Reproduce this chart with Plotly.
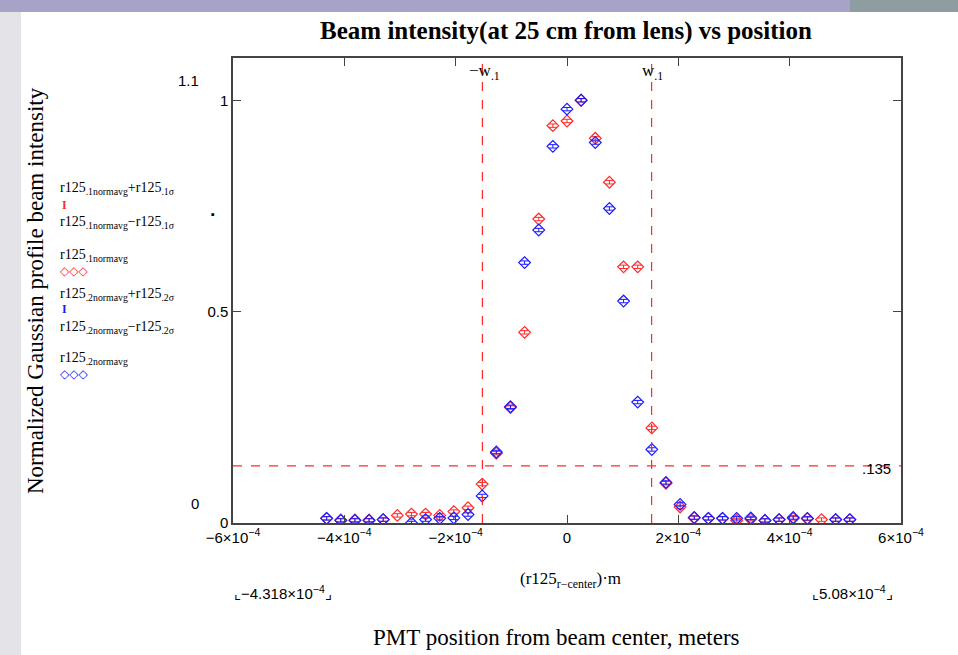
import plotly.graph_objects as go

# posisi PMT relatif terhadap pusat berkas (meter), langkah 0.001 inci
position_m = [-4.318e-4, -4.064e-4, -3.810e-4, -3.556e-4, -3.302e-4, -3.048e-4,
              -2.794e-4, -2.540e-4, -2.286e-4, -2.032e-4, -1.778e-4, -1.524e-4,
              -1.270e-4, -1.016e-4, -0.762e-4, -0.508e-4, -0.254e-4, 0.0,
              0.254e-4, 0.508e-4, 0.762e-4, 1.016e-4, 1.270e-4, 1.524e-4,
              1.778e-4, 2.032e-4, 2.286e-4, 2.540e-4, 2.794e-4, 3.048e-4,
              3.302e-4, 3.556e-4, 3.810e-4, 4.064e-4, 4.318e-4, 4.572e-4,
              4.826e-4, 5.080e-4]

r125_1normavg = [0.011, 0.007, 0.007, 0.007, 0.008, 0.018, 0.021, 0.021, 0.018,
                 0.027, 0.036, 0.092, 0.165, 0.273, 0.451, 0.719, 0.940, 0.951,
                 1.000, 0.910, 0.806, 0.606, 0.606, 0.225, 0.094, 0.038, 0.012,
                 0.011, 0.011, 0.006, 0.009, 0.006, 0.008, 0.011, 0.010, 0.008,
                 0.008, 0.008]

r125_2normavg = [0.011, 0.006, 0.006, 0.006, 0.008, -0.02, 0.000, 0.008, 0.011,
                 0.012, 0.020, 0.064, 0.168, 0.275, 0.616, 0.693, 0.891, 0.979,
                 1.000, 0.900, 0.744, 0.525, 0.286, 0.174, 0.096, 0.044, 0.013,
                 0.011, 0.011, 0.011, 0.012, 0.006, 0.008, 0.013, 0.011, -0.02,
                 0.008, 0.008]

w_1 = 1.52e-4
level_e2 = 0.135
x_limits = [-6e-4, 6e-4]
y_limits = [0, 1.1]
x_ticks = [-6e-4, -4e-4, -2e-4, 0, 2e-4, 4e-4, 6e-4]
x_ticktext = ["\u22126\u00d710<sup>\u22124</sup>", "\u22124\u00d710<sup>\u22124</sup>",
              "\u22122\u00d710<sup>\u22124</sup>", "0", "2\u00d710<sup>\u22124</sup>",
              "4\u00d710<sup>\u22124</sup>", "6\u00d710<sup>\u22124</sup>"]
y_ticks = [0, 0.5, 1]
y_ticktext = ["0", "0.5", "1"]

RED = "#ff2a2a"
BLUE = "#1a1aff"
SERIF = "Liberation Serif"
SANS = "Liberation Sans"

# area plot dalam piksel
L, R, T, B = 233, 901, 58, 523


def px(x):
    return (x - L) / (R - L)


def py(y):
    return (B - y) / (B - T)


fig = go.Figure()

for vals, col in [(r125_1normavg, RED), (r125_2normavg, BLUE)]:
    fig.add_trace(go.Scatter(
        x=position_m, y=vals, mode="markers",
        marker=dict(symbol="diamond-open", size=9, color=col, line=dict(width=1.2)),
        error_y=dict(type="constant", value=0.004, color=col, width=4, thickness=1),
        showlegend=False
    ))

ann = []

# pita jendela di tepi atas dan kiri (kotak kosong berwarna)
for x0, y0, w, h, col in [(0, 0, 850, 12, "#a6a2c8"), (850, 0, 108, 12, "#8e9da2"),
                          (0, 12, 20, 643, "#e4e4e8")]:
    ann.append(dict(xref="paper", yref="paper", x=px(x0), y=py(y0), text=" ",
                    showarrow=False, xanchor="left", yanchor="top", width=w, height=h,
                    bgcolor=col, borderpad=0, borderwidth=0, font=dict(size=1)))


def text(x, y, s, size=14, font=SERIF, color="black", anchor="left", **kw):
    ann.append(dict(xref="paper", yref="paper", x=px(x), y=py(y), text=s,
                    showarrow=False, xanchor=anchor, yanchor="middle",
                    font=dict(family=font, size=size, color=color), **kw))


# legenda ala Mathcad
text(58, 188, "r125<sub>.1normavg</sub>+r125<sub>.1\u03c3</sub>")
text(60, 205, "<b>I</b>", size=12, color=RED)
text(58, 222, "r125<sub>.1normavg</sub>\u2212r125<sub>.1\u03c3</sub>")
text(209, 214, "\u25aa", size=11)
text(58, 255, "r125<sub>.1normavg</sub>")
text(58, 271, "\u25c7\u25c7\u25c7", size=12, color=RED, font="DejaVu Sans")
text(58, 294, "r125<sub>.2normavg</sub>+r125<sub>.2\u03c3</sub>")
text(60, 309, "<b>I</b>", size=12, color=BLUE)
text(58, 327, "r125<sub>.2normavg</sub>\u2212r125<sub>.2\u03c3</sub>")
text(58, 358, "r125<sub>.2normavg</sub>")
text(58, 374, "\u25c7\u25c7\u25c7", size=12, color=BLUE, font="DejaVu Sans")

# label batas sumbu
text(188, 80, "1.1", size=15, font=SANS, anchor="center")
text(195, 503, "0", size=15, font=SANS, anchor="center")
text(467, 72, "\u2212w<sub>.1</sub>", size=17)
text(640, 72, "w<sub>.1</sub>", size=17)
text(876, 468, ".135", size=15, font=SANS, anchor="center")
text(232, 592, "\u231e\u22124.318\u00d710<sup>\u22124</sup>\u231f", size=15, font=SANS)
text(810, 592, "\u231e5.08\u00d710<sup>\u22124</sup>\u231f", size=15, font=SANS)
text(570, 580, "(r125<sub>r\u2212center</sub>)\u00b7m", size=17, anchor="center")
text(556, 637, "PMT position from beam center, meters", size=23, anchor="center")
ann.append(dict(xref="paper", yref="paper", x=px(35), y=py(291),
                text="Normalized Gaussian profile beam intensity", showarrow=False,
                textangle=-90, xanchor="center", yanchor="middle",
                font=dict(family=SERIF, size=23, color="black")))

fig.update_layout(
    width=958, height=655,
    margin=dict(l=L, r=958 - R, t=T, b=655 - B),
    paper_bgcolor="white", plot_bgcolor="white",
    title=dict(text="<b>Beam intensity(at 25 cm from lens) vs position</b>",
               xref="container", x=566 / 958, xanchor="center",
               yref="container", y=1 - 30 / 655, yanchor="middle",
               font=dict(family=SERIF, size=25, color="black")),
    xaxis=dict(range=x_limits, tickvals=x_ticks, ticktext=x_ticktext,
               showgrid=False, zeroline=False, showline=True, linecolor="#444",
               linewidth=1.5, mirror="ticks", ticks="inside", ticklen=8,
               tickcolor="#444", tickfont=dict(family=SANS, size=15, color="black")),
    yaxis=dict(range=y_limits, tickvals=y_ticks, ticktext=y_ticktext,
               showgrid=False, zeroline=False, showline=True, linecolor="#444",
               linewidth=1.5, mirror="ticks", ticks="inside", ticklen=8,
               tickcolor="#444", tickfont=dict(family=SANS, size=15, color="black")),
    annotations=ann,
)

# garis putus-putus w.1 dan level 1/e^2
fig.add_vline(x=-w_1, line=dict(color=RED, dash="dash", width=1.2))
fig.add_vline(x=w_1, line=dict(color=RED, dash="dash", width=1.2))
fig.add_hline(y=level_e2, line=dict(color=RED, dash="dash", width=1.2))
fig.add_shape(type="line", xref="paper", yref="paper", x0=px(20), x1=px(20),
              y0=py(655), y1=py(12), line=dict(color="#c8c8cc", width=1))

fig.write_html("out.html", config={"displayModeBar": False},
               post_script="document.body.style.margin='0px';")
